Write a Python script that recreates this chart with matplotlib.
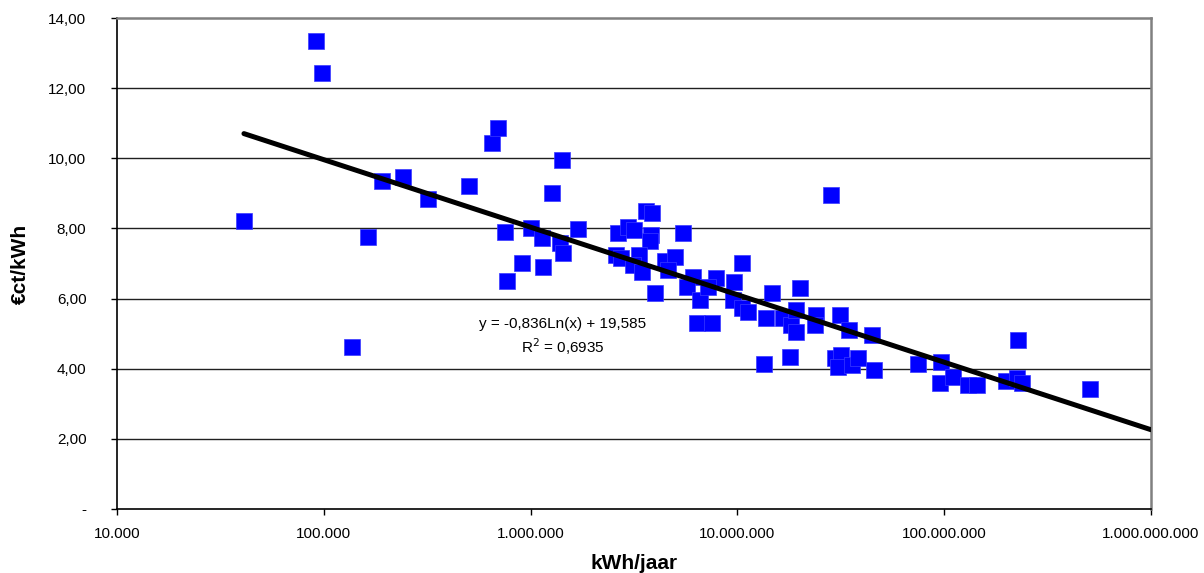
import matplotlib
matplotlib.use("Agg")
import matplotlib.pyplot as plt
import numpy as np

# Data
kwh_per_year = [
    41100, 91700, 98000, 136900, 162700, 191100, 241500, 319000, 503600,
    654000, 696000, 752000, 773000, 904000, 1004000, 1135000, 1148000,
    1269000, 1388000, 1427000, 1419000, 1686000,
    2632000, 2588000, 2736000, 2958000, 3162000, 3614000, 3864000, 3821000,
    3779000, 5456000, 3344000, 3128000, 3439000, 3996000, 4466000, 4993000,
    4617000, 6099000, 5674000, 6594000, 7879000, 7206000, 6342000, 7495000,
    9521000, 10470000, 9629000, 10470000, 11260000, 14620000, 20080000,
    13750000, 16620000, 18260000, 19200000, 19310000, 23990000, 23720000,
    31340000, 34650000, 44750000, 13450000, 18060000, 29650000, 31870000,
    30650000, 35630000, 38310000, 45750000, 28510000,
    74300000, 96500000, 95400000, 110300000, 130300000, 143300000,
    197900000, 223700000, 237800000, 226200000, 507000000,
]
ct_per_kwh = [
    8.20, 13.33, 12.43, 4.62, 7.76, 9.35, 9.48, 8.84, 9.21,
    10.45, 10.86, 7.91, 6.50, 7.01, 8.01, 7.73, 6.91,
    9.01, 7.58, 7.30, 9.95, 7.98,
    7.87, 7.24, 7.16, 8.04, 7.96, 8.50, 8.44, 7.81,
    7.64, 7.87, 7.24, 6.96, 6.76, 6.16, 7.06, 7.19,
    6.81, 6.62, 6.34, 5.96, 6.59, 6.34, 5.30, 5.30,
    5.96, 7.01, 6.47, 5.73, 5.62, 6.16, 6.30,
    5.45, 5.45, 5.25, 5.06, 5.67, 5.53, 5.25,
    5.53, 5.10, 4.96, 4.13, 4.33, 4.31, 4.39,
    4.06, 4.11, 4.31, 3.96, 8.95,
    4.13, 4.19, 3.59, 3.76, 3.54, 3.54,
    3.65, 3.74, 3.59, 4.82, 3.42,
]

# Logarithmic trendline as shown on the chart
trend_a = -0.836
trend_b = 19.585
trend_label = "y = -0,836Ln(x) + 19,585"
r2_label = "R$^2$ = 0,6935"

x_ticks = [1e4, 1e5, 1e6, 1e7, 1e8, 1e9]
x_tick_labels = ["10.000", "100.000", "1.000.000", "10.000.000",
                 "100.000.000", "1.000.000.000"]
y_ticks = [0, 2, 4, 6, 8, 10, 12, 14]
y_tick_labels = ["-", "2,00", "4,00", "6,00", "8,00", "10,00", "12,00", "14,00"]

plt.rcParams['font.family'] = ['Liberation Sans', 'DejaVu Sans']

fig = plt.figure(figsize=(12.04, 5.73), dpi=100)
ax = fig.add_axes([117 / 1204, 1 - 509 / 573, 1034 / 1204, 491 / 573])

ax.set_xscale('log')
ax.set_xlim(1e4, 1e9)
ax.set_ylim(0, 14)

# gridlines
for yv in y_ticks[1:-1]:
    ax.axhline(yv, color='#202020', lw=1.0, zorder=1)

ax.scatter(kwh_per_year, ct_per_kwh, marker='s', s=125, color='#0000ff',
           edgecolors='#3a3aff', linewidths=0.5, zorder=3)

tx = np.array([min(kwh_per_year), 1e9])
ax.plot(tx, trend_a * np.log(tx) + trend_b, color='black', lw=3.6,
        solid_capstyle='round', zorder=4)

ax.text(563 / 1204, 1 - 324 / 573, trend_label, transform=fig.transFigure,
        ha='center', va='center', fontsize=11)
ax.text(563 / 1204, 1 - 347 / 573, r2_label, transform=fig.transFigure,
        ha='center', va='center', fontsize=11)

ax.set_xticks(x_ticks)
ax.set_xticklabels(x_tick_labels)
ax.minorticks_off()
ax.set_yticks(y_ticks)
ax.set_yticklabels(y_tick_labels)
ax.tick_params(axis='x', direction='out', length=4, width=1, pad=9, labelsize=11)
ax.tick_params(axis='y', direction='out', length=4, width=1, pad=18, labelsize=11)

for side in ['top', 'right']:
    ax.spines[side].set_color('#808080')
    ax.spines[side].set_linewidth(1.8)
for side in ['left', 'bottom']:
    ax.spines[side].set_color('black')
    ax.spines[side].set_linewidth(1.2)

ax.set_xlabel('kWh/jaar', fontsize=15, fontweight='bold')
ax.xaxis.set_label_coords(0.5, -0.092)
ax.set_ylabel('€ct/kWh', fontsize=15, fontweight='bold')
ax.yaxis.set_label_coords(-0.093, 0.5)
ax.yaxis.label.set_va('center')
ax.yaxis.label.set_x(-0.093)

fig.savefig('out.png', dpi=100)
